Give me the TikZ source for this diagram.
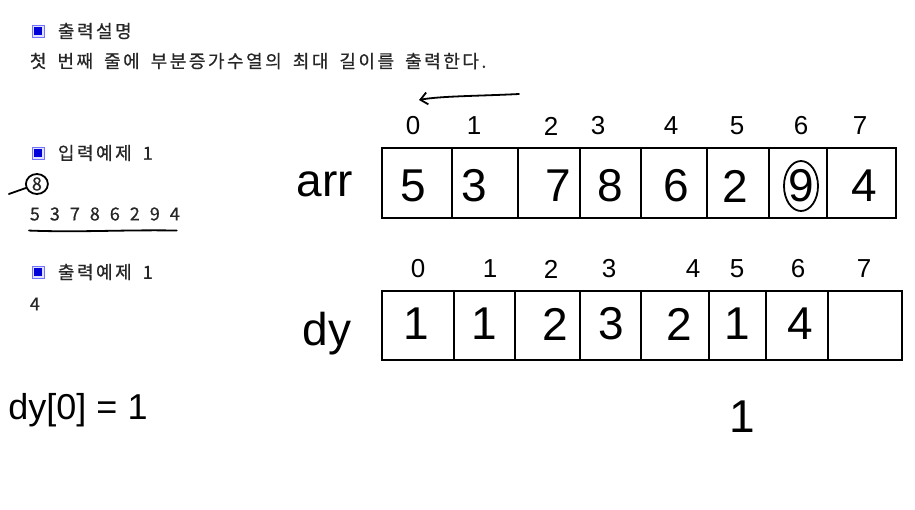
\documentclass[tikz,border=0pt]{standalone}
\usepackage{fontspec}
\setmainfont{Liberation Sans}
\newfontfamily\kr[LetterSpace=14, FakeBold=0.6]{Noto Sans CJK KR}
\newcommand\krfont{\kr\fontsize{18}{18}\selectfont\spaceskip=11pt\relax}
\usetikzlibrary{arrows.meta}

\begin{document}
\begin{tikzpicture}[x=1pt, y=-1pt, line width=1.8pt, line cap=round]
        \tikzstyle{every node}=[inner sep=0pt];
        \tikzstyle{cell}=[draw, line width=2pt];
        \tikzstyle{idx}=[font=\fontsize{26}{26}\selectfont];
        \tikzstyle{val}=[font=\fontsize{46}{46}\selectfont];
        \tikzstyle{hand}=[font=\fontsize{46}{46}\selectfont];
        \tikzstyle{head}=[anchor=west, font=\krfont, text=black!85];
        \useasboundingbox (0,0) rectangle (915,509);

        % icons
        \foreach \y/\n in {31/ic1, 153/ic2, 272/ic3} {
            \node[draw=blue!55, fill=blue!12, line width=0.8pt, minimum size=12pt] (\n) at (38,\y) {};
            \fill[blue!85!black] (\n.center) +(-3.6,-3.6) rectangle +(3.6,3.6);
        }
        \node[head] (out) at (57,31) {출력설명};
        \node[head] (desc) at (29,61) {첫 번째 줄에 부분증가수열의 최대 길이를 출력한다.};
        \node[head] (ex1) at (57,153) {입력예제 1};
        \node[head] (n) at (31,184) {8};
        \node[head, font={\krfont\spaceskip=10pt\relax}] (inp) at (29,214) {5 3 7 8 6 2 9 4};
        \node[head] (ex2) at (57,272) {출력예제 1};
        \node[head] (res) at (29,304) {4};

        % marks on the example
        \draw (n.center) ellipse (11 and 10);
        \draw ([shift={(-11,4)}]n.center) -- ([shift={(-28,10)}]n.center);
        \draw ([shift={(0,9)}]inp.south west) .. controls +(50,2) and +(-50,-1) .. ([shift={(-4,9)}]inp.south east);

        % arr
        \node[hand] (arr) at (325,184) {arr};
        \foreach \l/\r in {382/452, 452/518, 518/580, 580/641, 641/707, 707/769, 769/827, 827/896}
            \draw[cell] (\l,148) rectangle (\r,218);
        \foreach \x [count=\i from 0] in {413,474,551,598,671,737,801,860}
            \node[idx] (ai\i) at (\x,126) {\i};
        \foreach \v/\x [count=\i from 0] in {5/413, 3/474, 7/558, 8/610, 6/676, 2/735, 9/801, 4/864}
            \node[val] (a\i) at (\x,186) {\v};
        \draw (a6) ellipse (17 and 25);
        \coordinate (back) at (519,94);
        \coordinate (front) at (419,100);
        \draw[-{Straight Barb[length=7pt, width=12pt]}] (back) .. controls (480,96) and (440,96) .. (front);

        % dy
        \node[hand] (dy) at (327,334) {dy};
        \foreach \l/\r in {382/454, 454/515, 515/580, 580/641, 641/709, 709/766, 766/828, 828/902}
            \draw[cell] (\l,291) rectangle (\r,360);
        \foreach \x [count=\i from 0] in {418,490,551,609,693,737,798,864}
            \node[idx] (di\i) at (\x,269) {\i};
        \foreach \v/\x [count=\i from 0] in {1/416, 1/484, 2/555, 3/611, 2/679, 1/737, 4/800}
            \node[val] (d\i) at (\x,324) {\v};

        \node[font=\fontsize{36}{36}\selectfont] (init) at (78,410) {dy[0] = 1};
        \node[hand] (cur) at (742,417) {1};
\end{tikzpicture}
\end{document}
